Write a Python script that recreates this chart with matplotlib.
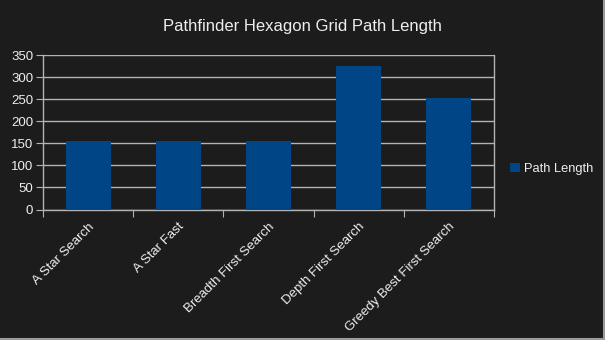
import matplotlib
matplotlib.use("Agg")
import matplotlib.pyplot as plt
from matplotlib.lines import Line2D
from matplotlib.patches import Patch
import numpy as np

categories = ["A Star Search", "A Star Fast", "Breadth First Search",
              "Depth First Search", "Greedy Best First Search"]
path_length = [155, 155, 155, 326, 253]
yticks = [0, 50, 100, 150, 200, 250, 300, 350]

bg = "#1c1c1c"
bar_color = "#004586"
grid_color = "#b3b3b3"
text_color = "#eeeeee"

plt.rcParams["font.family"] = ["Liberation Sans", "DejaVu Sans"]

fig = plt.figure(figsize=(6.05, 3.4), dpi=100, facecolor=bg)
ax = fig.add_axes([43/605, 1-209.5/340, (494-43)/605, (209.5-55.3)/340])
ax.set_facecolor(bg)

x = np.arange(len(categories))
ax.bar(x, path_length, width=0.5, color=bar_color, zorder=3, label="Path Length")

ax.set_xlim(-0.5, len(categories)-0.5)
ax.set_ylim(0, 350)
ax.set_yticks(yticks)
ax.set_yticklabels([str(v) for v in yticks])
ax.yaxis.grid(True, color=grid_color, linewidth=1.0, zorder=0)

ax.set_xticks(np.arange(len(categories)+1) - 0.5)
ax.set_xticklabels([])
ax.set_xticks(x, minor=True)
ax.set_xticklabels(categories, minor=True, rotation=45, ha="right",
                   rotation_mode="anchor", color=text_color, fontsize=9.5)
ax.tick_params(axis="x", which="minor", length=0, pad=8)
ax.tick_params(axis="x", which="major", length=5, color=grid_color, direction="out")
ax.tick_params(axis="y", length=5, color=grid_color, labelcolor=text_color,
               labelsize=9.5, pad=2)

for side in ["left", "bottom", "right"]:
    ax.spines[side].set_color(grid_color)
    ax.spines[side].set_linewidth(1.0)
ax.spines["top"].set_visible(False)

fig.text(0.5, 1-26/340, "Pathfinder Hexagon Grid Path Length", ha="center",
         va="center", color=text_color, fontsize=12)

leg = fig.legend(handles=[Patch(facecolor=bar_color, label="Path Length")],
                 loc="center left", bbox_to_anchor=(510/605, 1-169/340),
                 frameon=False, fontsize=9.3, handlelength=0.75, handleheight=0.75,
                 handletextpad=0.35, borderaxespad=0, borderpad=0)
for t in leg.get_texts():
    t.set_color(text_color)

fig.add_artist(Line2D([0, 1], [1.5/340, 1.5/340], transform=fig.transFigure,
                      color="#9a9a9a", linewidth=1.5))
fig.add_artist(Line2D([1-1.5/605, 1-1.5/605], [0, 1], transform=fig.transFigure,
                      color="#9a9a9a", linewidth=1.5))

fig.savefig("out.png", dpi=100, facecolor=bg)
